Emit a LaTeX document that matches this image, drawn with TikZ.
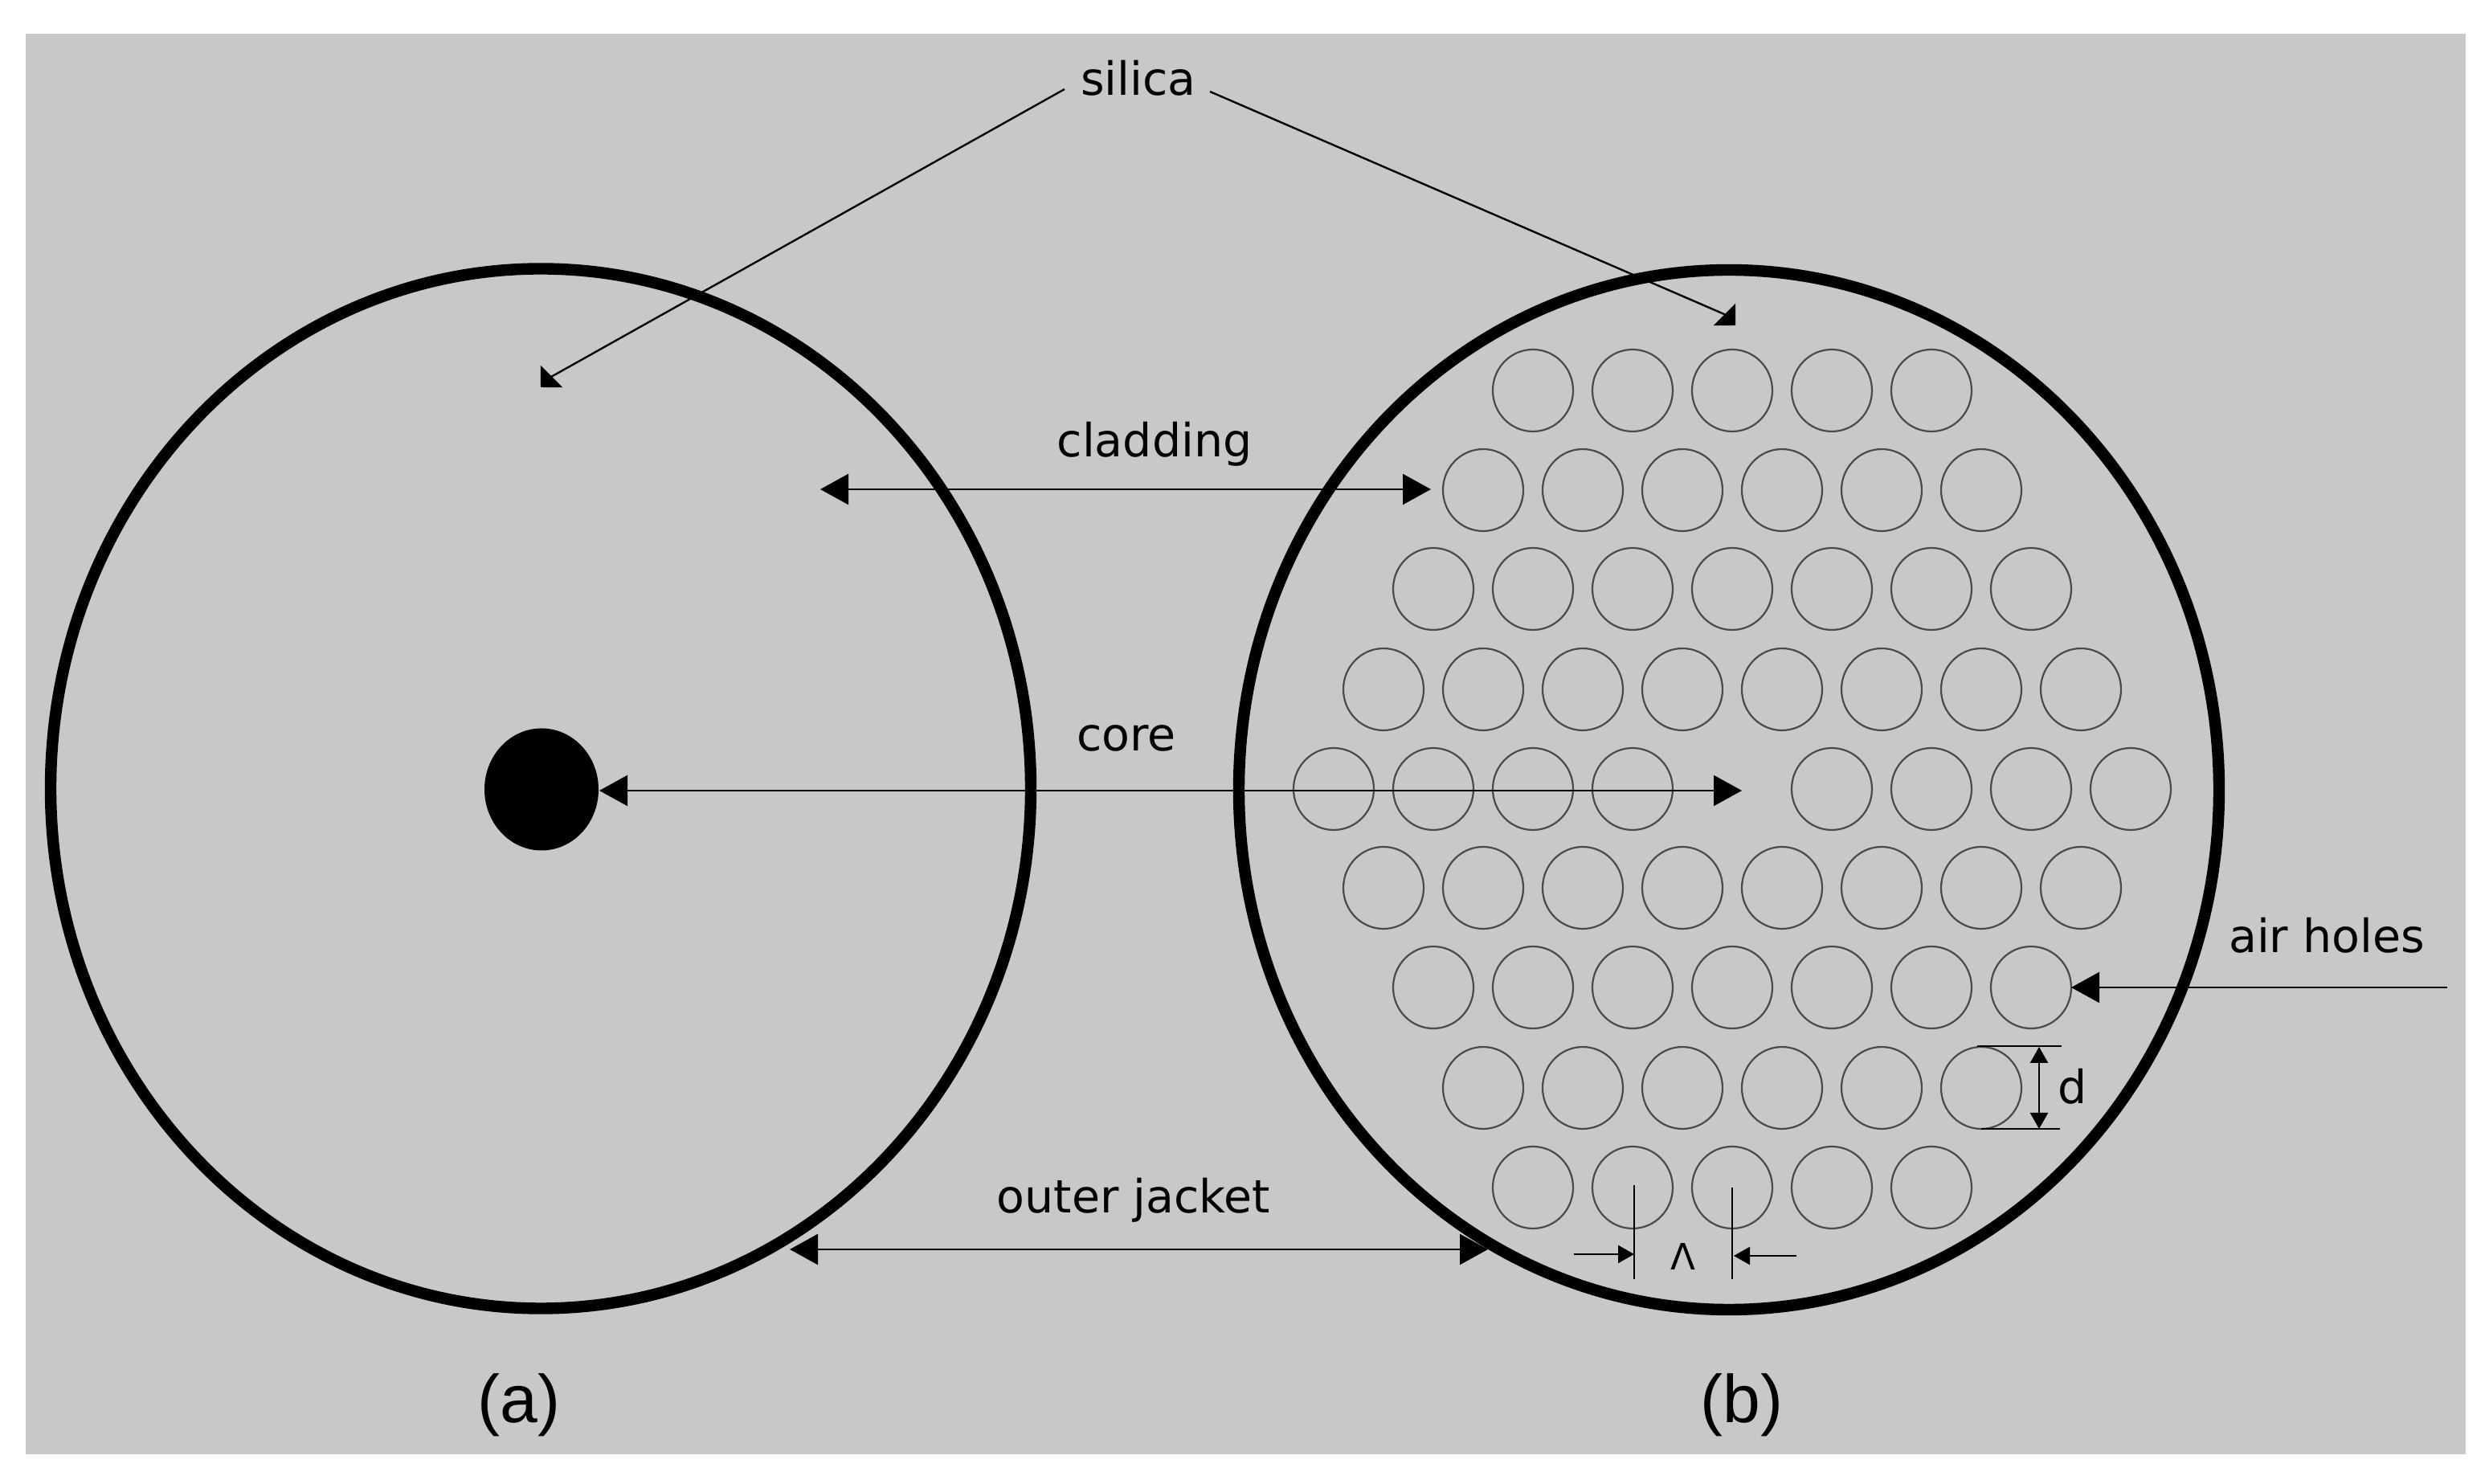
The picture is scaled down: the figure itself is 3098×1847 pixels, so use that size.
\documentclass[tikz,border=0pt]{standalone}
\usepackage{fontspec}
\setmainfont{DejaVu Sans}
\newfontfamily\panelfont{Liberation Sans}
\usetikzlibrary{arrows.meta,shapes.geometric}
\definecolor{bggray}{HTML}{C8C8C8}
\definecolor{holeline}{HTML}{4A4A4A}
\tikzset{
  fibre/.style={draw=black,line width=3.6pt,ellipse,inner sep=0pt,outer sep=0pt,minimum width=305pt,minimum height=323.5pt},
  corespot/.style={fill=black,ellipse,inner sep=0pt,outer sep=0pt,minimum width=35.5pt,minimum height=38pt},
  airhole/.style={draw=holeline,line width=0.55pt,ellipse,inner sep=0pt,outer sep=0pt,minimum width=25pt,minimum height=25.5pt},
  lab/.style={inner sep=0pt,anchor=base,font=\fontsize{14.25pt}{17pt}\selectfont},
  smalllab/.style={inner sep=0pt,anchor=base,font=\fontsize{11.3pt}{14pt}\selectfont},
  panel/.style={inner sep=0pt,anchor=base,font=\panelfont\fontsize{21pt}{25pt}\selectfont},
  conn/.style={draw=black,line width=0.6pt},
  bighead/.style={conn,arrows={-{Triangle[length=8.75pt,width=9.5pt]}}},
  bigboth/.style={conn,arrows={{Triangle[length=8.75pt,width=9.5pt]}-{Triangle[length=8.75pt,width=9.5pt]}}},
  cornerhead/.style={conn,arrows={-{Triangle[length=4.8pt,width=9.6pt]}}},
  smallhead/.style={conn,arrows={-{Triangle[length=5pt,width=5.5pt]}}},
  smallboth/.style={conn,arrows={{Triangle[length=5pt,width=5.5pt]}-{Triangle[length=5pt,width=5.5pt]}}},
  tick/.style={draw=black,line width=0.6pt},
}
\begin{document}
\begin{tikzpicture}[x=0.25pt,y=-0.25pt]
\useasboundingbox (0,0) rectangle (3098,1847);
\fill[bggray] (32,42) rectangle (3069,1810);

% fibres
\node[fibre] (fibreA) at (673,981.5) {};
\node[fibre] (fibreB) at (2152,983) {};
\node[corespot] (core) at (674,982.5) {};

% air holes
\foreach \row/\yy/\offs in {
  0/486/{-248,-124,0,124,248},
  1/610/{-310,-186,-62,62,186,310},
  2/733/{-372,-248,-124,0,124,248,372},
  3/858/{-434,-310,-186,-62,62,186,310,434},
  4/982/{-496,-372,-248,-124,124,248,372,496},
  5/1105/{-434,-310,-186,-62,62,186,310,434},
  6/1229/{-372,-248,-124,0,124,248,372},
  7/1354/{-310,-186,-62,62,186,310},
  8/1478/{-248,-124,0,124,248}}{
  \foreach \o in \offs {
    \node[airhole] (hole-\row-\o) at ({2156+\o},\yy) {};
  }
}

% labels
\node[lab] (silica) at (1417,119) {silica};
\node[lab] (cladding) at (1437,569) {cladding};
\node[lab] (corelab) at (1402,935) {core};
\node[lab] (airlab) at (2896,1186) {air holes};
\node[lab] (jacket) at (1411,1510) {outer jacket};
\node[lab] (dlab) at (2580,1374) {d};
\node[smalllab] (pitch) at (2095,1581) {Λ};
\node[panel] (panelA) at (646,1771) {(a)};
\node[panel] (panelB) at (2168,1771) {(b)};

% end points
\coordinate (silL) at (1325,111);
\coordinate (silLb) at (686,469);
\coordinate (silLt) at (673,482);
\coordinate (silR) at (1506,114);
\coordinate (silRb) at (2146,391);
\coordinate (silRt) at (2160,405);
\coordinate (cladA) at (1021,609);
\coordinate (cladB) at (1781,609);
\coordinate (coreB) at (2168,984);
\coordinate (coreA) at (746,984);
\coordinate (airS) at (3046,1229);
\coordinate (jackA) at (983,1555);
\coordinate (jackB) at (1852,1555);
\coordinate (dT1) at (2461,1302);
\coordinate (dT2) at (2566,1302);
\coordinate (dB1) at (2466,1405);
\coordinate (dB2) at (2564,1405);
\coordinate (dA) at (2538,1303);
\coordinate (dZ) at (2538,1405);
\coordinate (pT1) at (2034,1475);
\coordinate (pB1) at (2034,1592);
\coordinate (pT2) at (2156,1478);
\coordinate (pB2) at (2156,1592);
\coordinate (pL) at (1959,1561);
\coordinate (pLt) at (2034,1561);
\coordinate (pR) at (2236,1563);
\coordinate (pRt) at (2158,1563);

% connectors
\draw[cornerhead] (silL) -- (silLb) -- (silLt);
\draw[cornerhead] (silR) -- (silRb) -- (silRt);
\draw[bigboth] (cladA) -- (cladB);
\draw[bigboth] (coreA) -- (coreB);
\draw[bighead] (airS) -- (hole-6-372.east);
\draw[bigboth] (jackA) -- (jackB);
\draw[tick] (dT1) -- (dT2);
\draw[tick] (dB1) -- (dB2);
\draw[smallboth] (dA) -- (dZ);
\draw[tick] (pT1) -- (pB1);
\draw[tick] (pT2) -- (pB2);
\draw[smallhead] (pL) -- (pLt);
\draw[smallhead] (pR) -- (pRt);
\end{tikzpicture}
\end{document}
